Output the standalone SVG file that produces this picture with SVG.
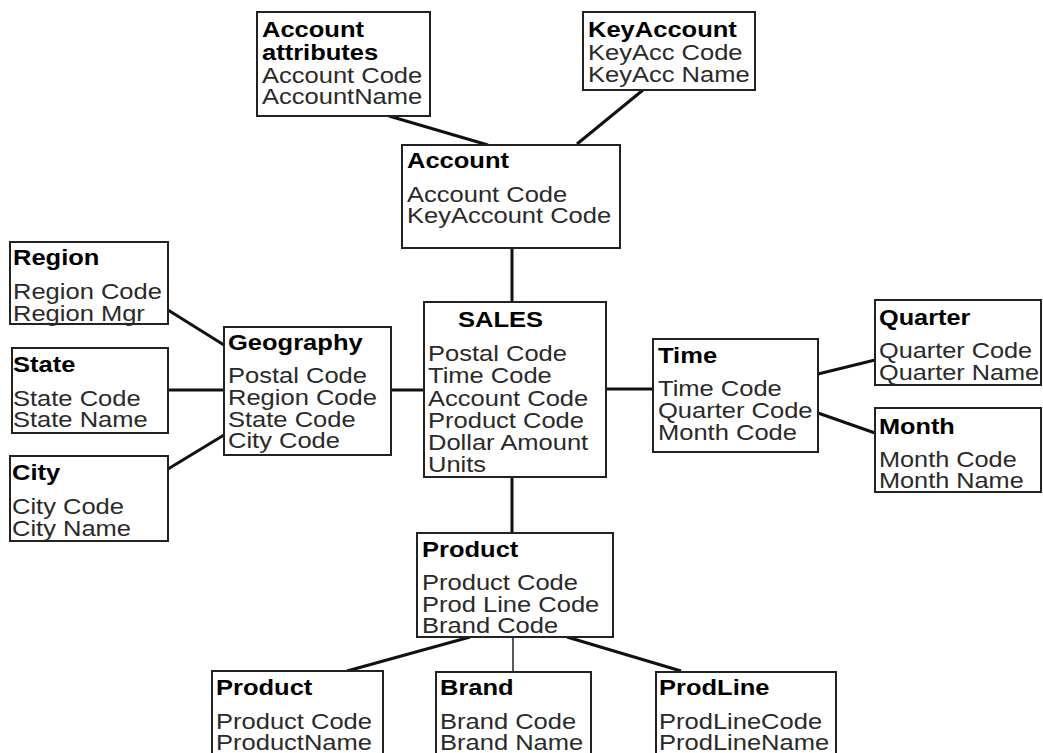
<svg xmlns="http://www.w3.org/2000/svg" width="1043" height="753" viewBox="0 0 1043 753">
<style>
.box{fill:#fff;stroke:#222;stroke-width:2}
.ln{stroke:#111;stroke-width:3;fill:none}
.thin{stroke:#222;stroke-width:1.5;fill:none}
text{font-family:"Liberation Sans",Arial,sans-serif;font-size:22px;fill:#2a2a2a}
.h{font-weight:bold;fill:#000}
</style>
<rect width="1043" height="753" fill="#fff"/>
<g id="connectors">
<line class="ln" x1="389" y1="116" x2="488" y2="145"/>
<line class="ln" x1="643" y1="90" x2="577" y2="144"/>
<line class="ln" x1="512" y1="248" x2="512" y2="302"/>
<line class="ln" x1="168" y1="310" x2="224" y2="345"/>
<line class="ln" x1="168" y1="390" x2="224" y2="390"/>
<line class="ln" x1="168" y1="469" x2="224" y2="435"/>
<line class="ln" x1="391" y1="390" x2="424" y2="390"/>
<line class="ln" x1="606" y1="389" x2="653" y2="389"/>
<line class="ln" x1="818" y1="374" x2="875" y2="360"/>
<line class="ln" x1="818" y1="413" x2="875" y2="433"/>
<line class="ln" x1="512" y1="477" x2="512" y2="533"/>
<line class="ln" x1="470" y1="637" x2="347" y2="671"/>
<line class="thin" x1="513" y1="637" x2="513" y2="672"/>
<line class="ln" x1="567" y1="637" x2="681" y2="671"/>
</g>
<g id="account-attributes">
<rect class="box" x="257" y="12" width="173" height="104"/>
<text transform="translate(262,0) scale(1.16,1)"><tspan class="h" x="0" y="37">Account</tspan><tspan class="h" x="0" y="60">attributes</tspan><tspan x="0" y="83">Account Code</tspan><tspan x="0" y="104">AccountName</tspan></text>
</g>
<g id="keyaccount">
<rect class="box" x="583" y="12" width="172" height="78"/>
<text transform="translate(588,0) scale(1.16,1)"><tspan class="h" x="0" y="37">KeyAccount</tspan><tspan x="0" y="60">KeyAcc Code</tspan><tspan x="0" y="82">KeyAcc Name</tspan></text>
</g>
<g id="account">
<rect class="box" x="402" y="145" width="218" height="103"/>
<text transform="translate(407,0) scale(1.16,1)"><tspan class="h" x="0" y="168">Account</tspan><tspan x="0" y="202">Account Code</tspan><tspan x="0" y="223">KeyAccount Code</tspan></text>
</g>
<g id="region">
<rect class="box" x="10" y="242" width="158" height="82"/>
<text transform="translate(13,0) scale(1.16,1)"><tspan class="h" x="0" y="265">Region</tspan><tspan x="0" y="299">Region Code</tspan><tspan x="0" y="321">Region Mgr</tspan></text>
</g>
<g id="state">
<rect class="box" x="12" y="348" width="156" height="85"/>
<text transform="translate(13,0) scale(1.16,1)"><tspan class="h" x="0" y="372">State</tspan><tspan x="0" y="406">State Code</tspan><tspan x="0" y="427">State Name</tspan></text>
</g>
<g id="city">
<rect class="box" x="10" y="456" width="158" height="85"/>
<text transform="translate(12,0) scale(1.16,1)"><tspan class="h" x="0" y="480">City</tspan><tspan x="0" y="514">City Code</tspan><tspan x="0" y="536">City Name</tspan></text>
</g>
<g id="geography">
<rect class="box" x="224" y="327" width="167" height="128"/>
<text transform="translate(228,0) scale(1.16,1)"><tspan class="h" x="0" y="350">Geography</tspan><tspan x="0" y="383">Postal Code</tspan><tspan x="0" y="405">Region Code</tspan><tspan x="0" y="427">State Code</tspan><tspan x="0" y="448">City Code</tspan></text>
</g>
<g id="sales">
<rect class="box" x="424" y="302" width="182" height="175"/>
<text transform="translate(458,0) scale(1.16,1)"><tspan class="h" x="0" y="327">SALES</tspan></text>
<text transform="translate(428,0) scale(1.16,1)"><tspan x="0" y="361">Postal Code</tspan><tspan x="0" y="383">Time Code</tspan><tspan x="0" y="406">Account Code</tspan><tspan x="0" y="428">Product Code</tspan><tspan x="0" y="450">Dollar Amount</tspan><tspan x="0" y="472">Units</tspan></text>
</g>
<g id="time">
<rect class="box" x="653" y="339" width="165" height="113"/>
<text transform="translate(658,0) scale(1.16,1)"><tspan class="h" x="0" y="363">Time</tspan><tspan x="0" y="396">Time Code</tspan><tspan x="0" y="418">Quarter Code</tspan><tspan x="0" y="440">Month Code</tspan></text>
</g>
<g id="quarter">
<rect class="box" x="875" y="300" width="166" height="85"/>
<text transform="translate(879,0) scale(1.15,1)"><tspan class="h" x="0" y="325">Quarter</tspan><tspan x="0" y="358">Quarter Code</tspan><tspan x="0" y="380">Quarter Name</tspan></text>
</g>
<g id="month">
<rect class="box" x="875" y="408" width="166" height="84"/>
<text transform="translate(879,0) scale(1.15,1)"><tspan class="h" x="0" y="434">Month</tspan><tspan x="0" y="467">Month Code</tspan><tspan x="0" y="488">Month Name</tspan></text>
</g>
<g id="product">
<rect class="box" x="417" y="533" width="196" height="104"/>
<text transform="translate(422,0) scale(1.16,1)"><tspan class="h" x="0" y="557">Product</tspan><tspan x="0" y="590">Product Code</tspan><tspan x="0" y="612">Prod Line Code</tspan><tspan x="0" y="633">Brand Code</tspan></text>
</g>
<g id="product-dim">
<rect class="box" x="212" y="671" width="171" height="95"/>
<text transform="translate(216,0) scale(1.16,1)"><tspan class="h" x="0" y="695">Product</tspan><tspan x="0" y="729">Product Code</tspan><tspan x="0" y="750">ProductName</tspan></text>
</g>
<g id="brand">
<rect class="box" x="436" y="672" width="155" height="95"/>
<text transform="translate(440,0) scale(1.16,1)"><tspan class="h" x="0" y="695">Brand</tspan><tspan x="0" y="729">Brand Code</tspan><tspan x="0" y="750">Brand Name</tspan></text>
</g>
<g id="prodline">
<rect class="box" x="656" y="672" width="180" height="95"/>
<text transform="translate(659,0) scale(1.16,1)"><tspan class="h" x="0" y="695">ProdLine</tspan><tspan x="0" y="729">ProdLineCode</tspan><tspan x="0" y="750">ProdLineName</tspan></text>
</g>
</svg>
